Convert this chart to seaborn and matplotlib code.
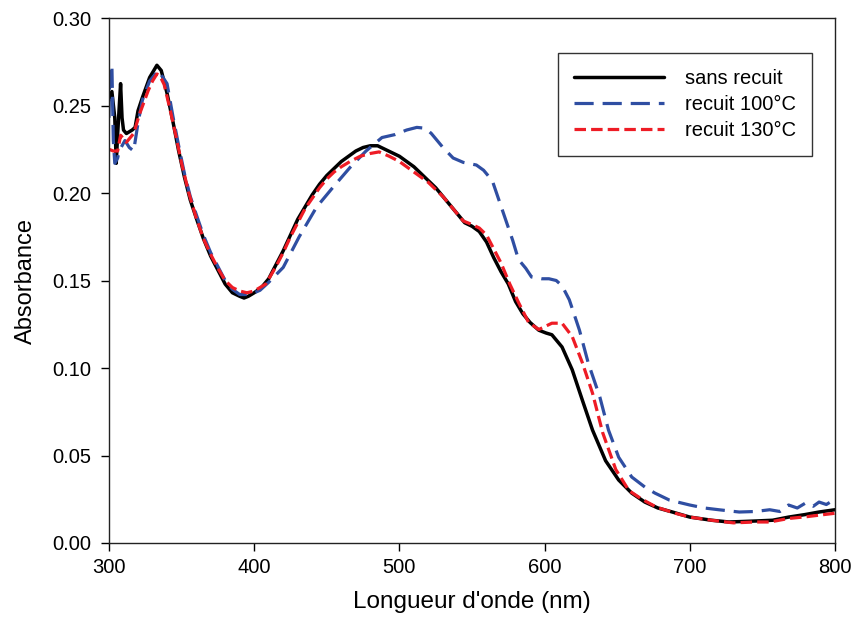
import numpy as np
import pandas as pd
import matplotlib
matplotlib.use("Agg")
import matplotlib.pyplot as plt
import seaborn as sns

# --- data (wavelength nm, absorbance) ---
nm_sans = [300, 302, 304, 305, 306, 308, 309, 310, 312, 316, 318, 320, 323, 328,
           333, 336, 340, 344, 348, 352, 356, 360, 365, 370, 375, 380, 385, 390,
           393, 396, 400, 405, 410, 415, 420, 425, 430, 435, 440, 445, 450, 455,
           460, 465, 470, 475, 480, 485, 490, 495, 500, 505, 510, 515, 520, 525,
           530, 535, 540, 545, 550, 555, 560, 565, 570, 575, 580, 585, 590, 596,
           601, 605, 608, 612, 619, 626, 633, 642, 651, 660, 669, 678, 688, 700,
           715, 727, 737, 746, 757, 768, 779, 789, 800]
abs_sans = [0.253, 0.258, 0.243, 0.217, 0.234, 0.2625, 0.243, 0.236, 0.234, 0.236,
            0.2375, 0.247, 0.2545, 0.266, 0.273, 0.270, 0.257, 0.241, 0.224, 0.209,
            0.196, 0.186, 0.174, 0.164, 0.156, 0.148, 0.143, 0.141, 0.140, 0.141,
            0.143, 0.146, 0.151, 0.159, 0.167, 0.176, 0.185, 0.192, 0.199, 0.205,
            0.210, 0.214, 0.218, 0.221, 0.224, 0.226, 0.227, 0.227, 0.225, 0.223,
            0.221, 0.218, 0.215, 0.211, 0.207, 0.203, 0.198, 0.193, 0.188, 0.183,
            0.181, 0.178, 0.172, 0.163, 0.155, 0.148, 0.138, 0.131, 0.126, 0.1216,
            0.120, 0.119, 0.116, 0.112, 0.099, 0.0816, 0.0645, 0.047, 0.036, 0.0285,
            0.0234, 0.020, 0.0177, 0.0148, 0.013, 0.012, 0.0123, 0.0126, 0.013,
            0.0148, 0.0162, 0.0177, 0.019]

nm_100 = [300, 300.5, 302, 303, 304, 306, 307, 311, 314, 317, 320, 323, 328, 334,
          340, 344, 348, 352, 356, 360, 365, 370, 375, 380, 385, 390, 396, 400,
          404, 410, 420, 431, 443, 454, 466, 477, 488, 497, 505, 512, 518, 522,
          530, 537, 544, 553, 558, 564, 571, 578, 582, 587, 591, 598, 603, 608,
          612, 617, 624, 630, 638, 644, 651, 660, 669, 676, 686, 700, 710, 720,
          734, 745, 755, 762, 768, 774, 780, 785, 789, 794, 800]
abs_100 = [0.243, 0.268, 0.273, 0.230, 0.217, 0.220, 0.224, 0.230, 0.226, 0.224,
           0.240, 0.253, 0.264, 0.270, 0.2625, 0.244, 0.227, 0.211, 0.198, 0.188,
           0.176, 0.166, 0.158, 0.150, 0.145, 0.142, 0.142, 0.143, 0.1444, 0.149,
           0.1575, 0.175, 0.192, 0.203, 0.2146, 0.224, 0.2317, 0.2334, 0.236,
           0.2375, 0.237, 0.234, 0.226, 0.220, 0.2175, 0.216, 0.213, 0.207, 0.190,
           0.173, 0.162, 0.157, 0.152, 0.151, 0.151, 0.150, 0.147, 0.139, 0.1216,
           0.103, 0.0835, 0.0645, 0.049, 0.0377, 0.032, 0.0285, 0.0245, 0.0217,
           0.020, 0.019, 0.0177, 0.018, 0.019, 0.018, 0.0217, 0.020, 0.023, 0.021,
           0.0234, 0.022, 0.025]

nm_130 = [300, 303, 306, 308, 312, 317, 321, 327, 330, 333, 335, 338, 342, 346,
          350, 355, 360, 365, 370, 375, 380, 385, 390, 395, 400, 408, 415, 420,
          425, 430, 435, 440, 445, 450, 455, 460, 466, 473, 480, 486, 493, 500,
          510, 520, 530, 538, 544, 550, 555, 560, 565, 570, 576, 582, 589, 596,
          601, 605, 612, 619, 626, 633, 640, 649, 658, 667, 677, 690, 700, 715,
          730, 745, 755, 768, 780, 790, 800]
abs_130 = [0.225, 0.224, 0.224, 0.233, 0.229, 0.234, 0.245, 0.2585, 0.264, 0.268,
           0.267, 0.262, 0.248, 0.233, 0.217, 0.200, 0.186, 0.174, 0.165, 0.157,
           0.150, 0.146, 0.144, 0.143, 0.144, 0.148, 0.158, 0.166, 0.175, 0.183,
           0.191, 0.197, 0.203, 0.208, 0.212, 0.215, 0.218, 0.221, 0.2226, 0.2235,
           0.221, 0.218, 0.212, 0.206, 0.198, 0.190, 0.184, 0.182, 0.180, 0.176,
           0.168, 0.160, 0.148, 0.1375, 0.126, 0.122, 0.124, 0.1256, 0.1256, 0.118,
           0.103, 0.0856, 0.063, 0.042, 0.030, 0.025, 0.0205, 0.017, 0.0148, 0.013,
           0.0115, 0.012, 0.012, 0.014, 0.015, 0.016, 0.017]

labels = ["sans recuit", "recuit 100°C", "recuit 130°C"]
x_ticks = [300, 400, 500, 600, 700, 800]
y_ticks = [0.00, 0.05, 0.10, 0.15, 0.20, 0.25, 0.30]

sns.set_style("white")
plt.rcParams['font.family'] = ['Liberation Sans', 'DejaVu Sans']
plt.rcParams['text.color'] = 'black'
plt.rcParams['axes.labelcolor'] = 'black'

fig = plt.figure(figsize=(8.54, 6.3), dpi=100)
ax = fig.add_axes([0.1276, 0.1381, 0.8502, 0.8333])

sns.lineplot(x=nm_sans, y=abs_sans, ax=ax, color='black', lw=2.5,
             label=labels[0], estimator=None)
sns.lineplot(x=nm_100, y=abs_100, ax=ax, color='#2F4EA2', lw=2.3,
             linestyle=(0, (6, 2.8)), label=labels[1], estimator=None)
sns.lineplot(x=nm_130, y=abs_130, ax=ax, color='#EE1C25', lw=2.3,
             linestyle=(0, (3.6, 1.6)), label=labels[2], estimator=None)

ax.set_xlim(300, 800)
ax.set_ylim(0, 0.30)
ax.set_xticks(x_ticks)
ax.set_yticks(y_ticks)
ax.set_yticklabels([f"{v:.2f}" for v in y_ticks])
ax.tick_params(axis='both', direction='out', length=6, width=1, labelsize=14.5,
               colors='black', bottom=True, left=True, top=False, right=False)
ax.tick_params(axis='y', pad=7)
ax.tick_params(axis='x', pad=5)
for s in ax.spines.values():
    s.set_visible(True)
    s.set_color('#222222')
    s.set_linewidth(1)

ax.set_xlabel("Longueur d'onde (nm)", fontsize=17.5, labelpad=10)
ax.set_ylabel("Absorbance", fontsize=17, labelpad=11)

leg = ax.legend(loc='upper right', bbox_to_anchor=(0.968, 0.933), fontsize=14.5,
                frameon=True, fancybox=False, handlelength=4.5, handletextpad=1.0,
                labelspacing=0.33, borderpad=0.8, borderaxespad=0)
leg.get_frame().set_edgecolor('black')
leg.get_frame().set_linewidth(1)

fig.savefig("out.png", dpi=100)
